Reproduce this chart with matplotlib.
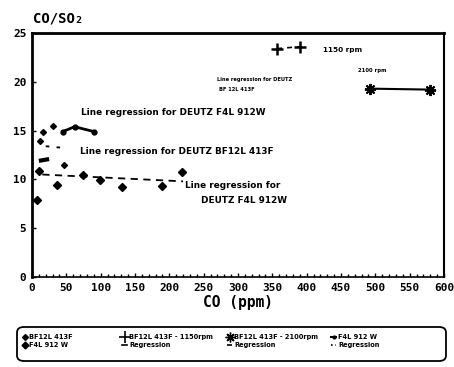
import matplotlib
matplotlib.use("Agg")
import matplotlib.pyplot as plt
from matplotlib.lines import Line2D
from matplotlib.patches import FancyBboxPatch

# data
x_ticks = [0, 50, 100, 150, 200, 250, 300, 350, 400, 450, 500, 550, 600]
y_ticks = [0, 5, 10, 15, 20, 25]

f4l_co = [8, 10, 37, 74, 99, 131, 190, 219]
f4l_ratio = [7.9, 10.9, 9.4, 10.4, 9.9, 9.2, 9.3, 10.8]
f4l_reg_co = [15, 220]
f4l_reg_ratio = [10.5, 9.8]

f4l_line_co = [45, 62, 90]
f4l_line_ratio = [14.9, 15.4, 14.9]

bf12_co = [11, 16, 31, 47]
bf12_ratio = [13.9, 14.9, 15.5, 11.5]
bf12_reg_co = [20, 50]
bf12_reg_ratio = [13.4, 13.2]
bf12_reg2_co = [10, 50]
bf12_reg2_ratio = [11.9, 12.4]

rpm1150_co = [357, 390]
rpm1150_ratio = [23.4, 23.6]
rpm2100_co = [492, 580]
rpm2100_ratio = [19.3, 19.2]

mono = "DejaVu Sans Mono"

fig = plt.figure(figsize=(4.54, 3.67), dpi=100)
ax = fig.add_axes([32 / 454, 1 - 277 / 367, 412 / 454, 244 / 367])

ax.plot(f4l_co, f4l_ratio, "D", color="black", ms=4)
ax.plot(f4l_reg_co, f4l_reg_ratio, color="black", ls=(0, (4, 3)), lw=1.3)
ax.plot(f4l_line_co, f4l_line_ratio, "o-", color="black", ms=3.5, lw=2)
ax.plot(bf12_co, bf12_ratio, "D", color="black", ms=3)
ax.plot(bf12_reg_co, bf12_reg_ratio, color="black", ls=(0, (2, 4)), lw=1.3)
ax.plot(bf12_reg2_co, bf12_reg2_ratio, color="black", ls=(0, (2.5, 5)), lw=3)
ax.plot(rpm1150_co, rpm1150_ratio, color="black", ls=(0, (3, 3)), lw=1.2,
        marker="+", ms=9, mew=1.8)
ax.plot(rpm2100_co, rpm2100_ratio, color="black", lw=1.5,
        marker=(8, 2, 0), ms=8, mew=1.4)

lbl = dict(fontsize=6.4, fontweight="bold", color="black")
ax.text(72, 16.6, "Line regression for DEUTZ F4L 912W", **lbl)
ax.text(70, 12.6, "Line regression for DEUTZ BF12L 413F", **lbl)
ax.text(223, 9.1, "Line regression for", **lbl)
ax.text(246, 7.6, "DEUTZ F4L 912W", **lbl)
ax.text(270, 20.2, "Line regression for DEUTZ", fontsize=3.7,
        fontweight="bold", va="center")
ax.text(273, 19.2, "BF 12L 413F", fontsize=3.7, fontweight="bold",
        va="center")
ax.text(424, 23.3, "1150 rpm", fontsize=5.2, fontweight="bold", va="center")
ax.text(475, 21.2, "2100 rpm", fontsize=3.8, fontweight="bold", va="center")

ax.set_xlim(0, 600)
ax.set_ylim(0, 25)
ax.set_xticks(x_ticks)
ax.set_yticks(y_ticks)
ax.set_xticks(range(0, 601, 10), minor=True)
ax.tick_params(which="both", direction="in", length=2, width=1)
ax.tick_params(which="major", length=3, pad=4)
for t in ax.get_xticklabels() + ax.get_yticklabels():
    t.set_fontfamily(mono)
    t.set_fontweight("bold")
    t.set_fontsize(8)
ax.spines["left"].set_linewidth(2)
ax.spines["top"].set_linewidth(2)
ax.spines["bottom"].set_linewidth(1.2)
ax.spines["right"].set_linewidth(1.5)

fig.text(33 / 454, 1 - 18 / 367, "CO/SO\u2082", family=mono, fontweight="bold",
         fontsize=10, va="center")
ax.set_xlabel("CO (ppm)", family=mono, fontweight="bold", fontsize=10.5,
              labelpad=2)

# legend: rounded box with four two-row columns
box = FancyBboxPatch((17 / 454, 6 / 367), 429 / 454, 34 / 367,
                     boxstyle="round,pad=0,rounding_size=0.015",
                     transform=fig.transFigure, fill=False,
                     edgecolor="black", lw=1.3)
fig.patches.append(box)

columns = [
    (22, [Line2D([], [], ls="none", marker="D", ms=3, color="black"),
          Line2D([], [], ls="none", marker="D", ms=3.5, color="black")],
     ["BF12L 413F", "F4L 912 W"]),
    (122, [Line2D([], [], ls="none", marker="+", ms=8, mew=1.2, color="black"),
           Line2D([], [], color="black", lw=1.2)],
     ["BF12L 413F - 1150rpm", "Regression"]),
    (227, [Line2D([], [], ls="none", marker=(8, 2, 0), ms=7, color="black"),
           Line2D([], [], color="black", lw=1.2, ls="--")],
     ["BF12L 413F - 2100rpm", "Regression"]),
    (331, [Line2D([], [], color="black", lw=1.5, marker="o", ms=2),
           Line2D([], [], color="black", lw=1.2, ls=":")],
     ["F4L 912 W", "Regression"]),
]
for xpos, hs, ls in columns:
    fig.legend(hs, ls, loc="upper left",
               bbox_to_anchor=(xpos / 454, 1 - 334 / 367),
               frameon=False, handlelength=0.8, handletextpad=0.3,
               borderaxespad=0, borderpad=0, labelspacing=0.35,
               prop=dict(size=4.8, weight="bold"))

fig.savefig("out.png", dpi=100)
